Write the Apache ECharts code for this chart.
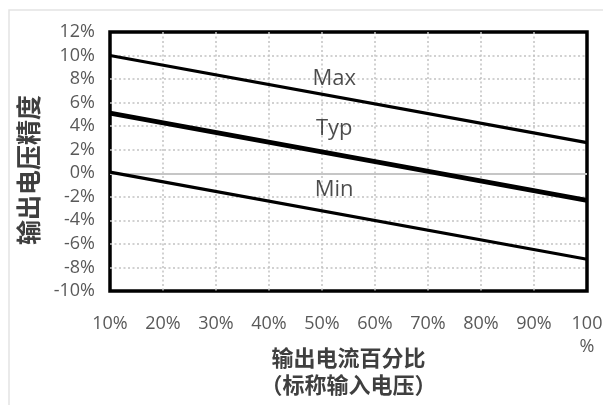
<!DOCTYPE html>
<html>
<head>
<meta charset="utf-8">
<script src="https://cdn.jsdelivr.net/npm/echarts@6/dist/echarts.min.js"></script>
<style>
html,body{margin:0;padding:0;background:#fff;}
#chart{width:603px;height:405px;}
</style>
</head>
<body>
<div id="chart"></div>
<script>
// Output current percentage (x) endpoints
const loadPct = [10, 100];
// Output voltage accuracy (%) at each endpoint
const maxVals = [10, 2.6];
const typVals = [5.1, -2.3];
const minVals = [0.1, -7.3];
// In-plot curve labels
const curveNames = ['Max', 'Typ', 'Min'];
const curveLabelX = [52.3, 52.3, 52.3];
const curveLabelY = [8.0, 3.8, -1.4];
// Axis titles
const yTitle = '输出电压精度';
const xTitle = '输出电流百分比\n（标称输入电压）';

const pairs = (xs, ys) => xs.map((x, i) => [x, ys[i]]);

const chart = echarts.init(document.getElementById('chart'), null, {renderer: 'canvas'});
const gridLine = {show: true, showMinLine: false, showMaxLine: false, lineStyle: {color: '#c2c2c2', width: 1.5, type: [2, 2.5]}};
const labelFont = {color: '#595959', fontSize: 18, fontFamily: 'Open Sans, DejaVu Sans, sans-serif'};

chart.setOption({
  animation: false,
  backgroundColor: '#ffffff',
  grid: {left: 110, right: 16, top: 32, bottom: 114, outerBoundsMode: 'none', containLabel: false,
         show: true, borderColor: '#000', borderWidth: 3.5, backgroundColor: 'transparent'},
  xAxis: {
    type: 'value', min: 10, max: 100, interval: 10,
    axisLine: {show: false}, axisTick: {show: false},
    splitLine: gridLine,
    axisLabel: Object.assign({margin: 21, lineHeight: 23, formatter: v => v === 100 ? '100\n%' : v + '%'}, labelFont)
  },
  yAxis: {
    type: 'value', min: -10, max: 12, interval: 2,
    axisLine: {show: false}, axisTick: {show: false},
    splitLine: gridLine,
    axisLabel: Object.assign({margin: 15, formatter: v => v + '%'}, labelFont)
  },
  graphic: [
    {type: 'rect', shape: {x: 9, y: 10, width: 700, height: 500}, style: {fill: 'none', stroke: '#e3e3e3', lineWidth: 1.5}, silent: true, z: -1},
    {type: 'text', x: 28, y: 170, rotation: Math.PI / 2,
     style: {text: yTitle, fontFamily: 'Noto Sans CJK SC', fontWeight: 'bold', fontSize: 25, fill: '#3f3f3f', align: 'center', verticalAlign: 'middle'}},
    {type: 'text', x: 348.5, y: 344,
     style: {text: xTitle, fontFamily: 'Noto Sans CJK SC', fontWeight: 'bold', fontSize: 22, lineHeight: 27, fill: '#3f3f3f', align: 'center', verticalAlign: 'top'}}
  ],
  series: [
    {
      type: 'line', name: 'Max', data: pairs(loadPct, maxVals), symbol: 'none',
      lineStyle: {color: '#000', width: 3.2}, z: 3,
      markLine: {silent: true, symbol: 'none', label: {show: false}, lineStyle: {color: '#c6c6c6', width: 2, type: 'solid'}, data: [{yAxis: 0}], z: 1}
    },
    {type: 'line', name: 'Typ', data: pairs(loadPct, typVals), symbol: 'none', lineStyle: {color: '#000', width: 4.8}, z: 3},
    {type: 'line', name: 'Min', data: pairs(loadPct, minVals), symbol: 'none', lineStyle: {color: '#000', width: 3.2}, z: 3},
    {
      type: 'scatter', symbolSize: 0, silent: true, z: 4,
      data: curveNames.map((n, i) => ({name: n, value: [curveLabelX[i], curveLabelY[i]]})),
      label: {show: true, position: 'inside', formatter: p => p.name, color: '#1f1f1f', fontSize: 22, fontFamily: 'Open Sans, sans-serif'}
    }
  ]
});
</script>
</body>
</html>
